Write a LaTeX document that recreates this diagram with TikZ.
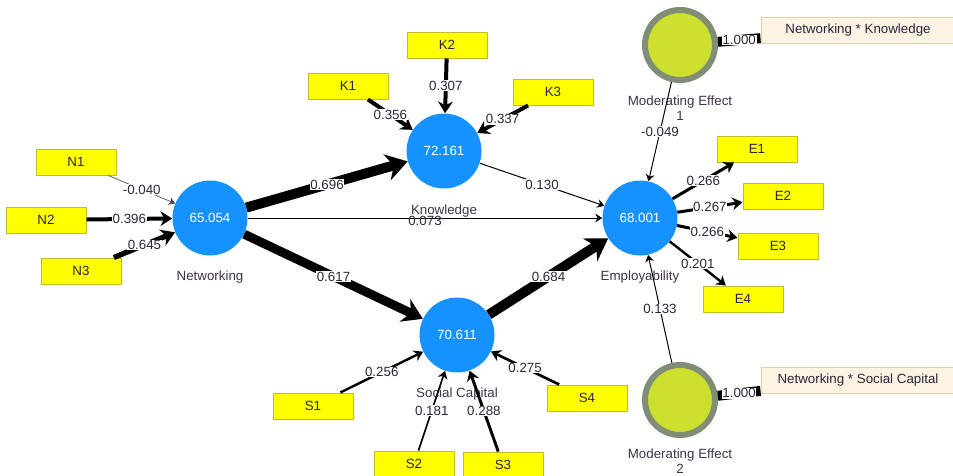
\documentclass[tikz,border=0pt]{standalone}
\usepackage{fontspec}
\setmainfont{Liberation Sans}
\usetikzlibrary{arrows.meta}

\definecolor{plsblue}{RGB}{22,146,255}
\definecolor{plsyellow}{RGB}{255,255,0}
\definecolor{plsyellowline}{RGB}{190,190,40}
\definecolor{plslime}{RGB}{205,224,45}
\definecolor{plsring}{RGB}{128,142,120}
\definecolor{plscream}{RGB}{253,243,226}
\definecolor{plscreamline}{RGB}{235,205,165}
\definecolor{plstext}{RGB}{40,40,60}
\definecolor{plsname}{RGB}{65,50,75}

\tikzset{
  costrutto/.style={circle, fill=plsblue, minimum size=56.25pt, inner sep=0pt,
    text=white, font=\fontsize{10}{11}\selectfont},
  moderatore/.style={circle, fill=plslime, draw=plsring, line width=4.5pt,
    minimum size=52.5pt, inner sep=0pt},
  nome/.style={inner sep=0pt, text=plsname, align=center, font=\fontsize{10}{11}\selectfont},
  indicatore/.style={rectangle, fill=plsyellow, draw=plsyellowline, line width=.75pt,
    minimum width=60pt, minimum height=19.5pt, inner sep=0pt,
    text=plstext, font=\fontsize{10}{11}\selectfont},
  interazione/.style={rectangle, fill=plscream, draw=plscreamline, line width=.75pt,
    minimum width=145.5pt, minimum height=19.5pt, inner sep=0pt,
    text=plstext, font=\fontsize{10}{11}\selectfont},
  peso/.style={fill=white, inner sep=.5pt, text=plstext, font=\fontsize{10}{11}\selectfont}
}

\begin{document}
\begin{tikzpicture}[x=0.75pt, y=-0.75pt, >={Stealth[length=4pt 1.6, width=5pt 2]}]
    \useasboundingbox[fill=white] (0,0) rectangle (953,475);

    % Costrutti
    \node[costrutto] (net) at (210,218) {65.054};
    \node[costrutto] (kno) at (444,151) {72.161};
    \node[costrutto] (emp) at (640,218) {68.001};
    \node[costrutto] (soc) at (457,335) {70.611};
    \node[nome] (netname) at (210,277) {Networking};
    \node[nome] (knoname) at (444,211) {Knowledge};
    \node[nome] (empname) at (640,277) {Employability};
    \node[nome] (socname) at (457,394) {Social Capital};

    % Effetti di moderazione
    \node[moderatore] (me1) at (680,45) {};
    \node[moderatore] (me2) at (680,400) {};
    \node[nome] (me1name) at (680,108) {Moderating Effect\\1};
    \node[nome] (me2name) at (680,461) {Moderating Effect\\2};
    \node[interazione] (nk) at (858,30) {Networking * Knowledge};
    \node[interazione] (ns) at (858,380) {Networking * Social Capital};

    % Indicatori
    \node[indicatore] (n1) at (76,162) {N1};
    \node[indicatore] (n2) at (46,220) {N2};
    \node[indicatore] (n3) at (81,271) {N3};
    \node[indicatore] (k1) at (348,86) {K1};
    \node[indicatore] (k2) at (447,45) {K2};
    \node[indicatore] (k3) at (553,92) {K3};
    \node[indicatore] (e1) at (757,149) {E1};
    \node[indicatore] (e2) at (783,196) {E2};
    \node[indicatore] (e3) at (778,246) {E3};
    \node[indicatore] (e4) at (743,299) {E4};
    \node[indicatore] (s1) at (313,406) {S1};
    \node[indicatore] (s2) at (414,464) {S2};
    \node[indicatore] (s3) at (503,465) {S3};
    \node[indicatore] (s4) at (587,398) {S4};

    % Pesi esterni
    \draw[->, line width=.5pt, black!70] (n1) -- node[peso] {-0.040} (net);
    \draw[->, line width=3pt] (n2) -- node[peso] {0.396} (net);
    \draw[->, line width=4pt] (n3) -- node[peso] {0.645} (net);
    \draw[->, line width=3pt] (k1) -- node[peso] {0.356} (kno);
    \draw[->, line width=3pt] (k2) -- node[peso] {0.307} (kno);
    \draw[->, line width=3pt] (k3) -- node[peso] {0.337} (kno);
    \draw[->, line width=1.8pt] (s1) -- node[peso] {0.256} (soc);
    \draw[->, line width=1.2pt] (s2) -- node[peso] {0.181} (soc);
    \draw[->, line width=2.2pt] (s3) -- node[peso] {0.288} (soc);
    \draw[->, line width=2pt] (s4) -- node[peso] {0.275} (soc);

    % Carichi
    \draw[->, line width=2.25pt] (emp) -- node[peso] {0.266} (e1);
    \draw[->, line width=2.25pt] (emp) -- node[peso] {0.267} (e2);
    \draw[->, line width=2.25pt] (emp) -- node[peso] {0.266} (e3);
    \draw[->, line width=1.8pt] (emp) -- node[peso] {0.201} (e4);
    \draw[line width=7.5pt] (me1) -- node[peso] {1.000} (nk);
    \draw[line width=7.5pt] (me2) -- node[peso] {1.000} (ns);

    % Percorsi
    \draw[->, line width=7.5pt] (net) -- node[peso] {0.696} (kno);
    \draw[->, line width=6.75pt] (net) -- node[peso] {0.617} (soc);
    \draw[->, line width=7.5pt] (soc) -- node[peso] {0.684} (emp);
    \draw[->, line width=.75pt] (net) -- node[peso, fill=none, yshift=-2pt] {0.073} (emp);
    \draw[->, line width=.75pt] (kno) -- node[peso] {0.130} (emp);
    \draw[->, line width=.75pt] (me1) -- node[peso] {-0.049} (emp);
    \draw[->, line width=.75pt] (me2) -- node[peso] {0.133} (emp);
\end{tikzpicture}
\end{document}
